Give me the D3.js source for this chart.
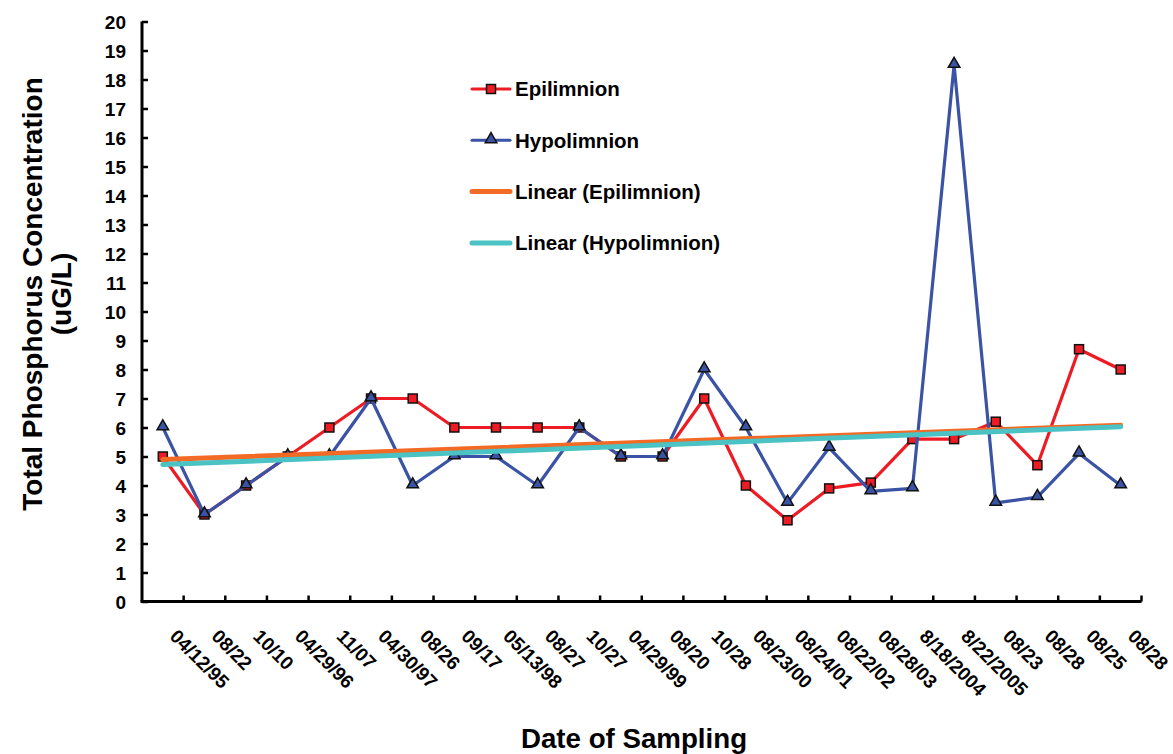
<!DOCTYPE html>
<html>
<head>
<meta charset="utf-8">
<script src="https://cdn.jsdelivr.net/npm/d3@7/dist/d3.min.js"></script>
<style>
  html, body { margin: 0; padding: 0; background: #fff; }
  svg { display: block; }
  text { font-family: "Liberation Sans", Arial, sans-serif; font-weight: bold; fill: #000; }
</style>
</head>
<body>
<svg id="chart" width="1173" height="754"></svg>
<script>
// Sampling dates (category axis)
const dates = ["04/12/95", "08/22", "10/10", "04/29/96", "11/07", "04/30/97", "08/26", "09/17",
  "05/13/98", "08/27", "10/27", "04/29/99", "08/20", "10/28", "08/23/00", "08/24/01",
  "08/22/02", "08/28/03", "8/18/2004", "8/22/2005", "08/23", "08/28", "08/25", "08/28"];

// Total phosphorus, uG/L
const epilimnion = [5, 3, 4, 5, 6, 7, 7, 6, 6, 6, 6, 5, 5, 7, 4, 2.8, 3.9, 4.1, 5.6, 5.6, 6.2, 4.7, 8.7, 8.0];
const hypolimnion = [6, 3, 4, 5, 5, 7, 4, 5, 5, 4, 6, 5, 5, 8, 6, 3.4, 5.3, 3.8, 3.9, 18.5, 3.4, 3.6, 5.1, 4.0];

const yTicks = d3.range(0, 21);

const seriesNames = ["Epilimnion", "Hypolimnion", "Linear (Epilimnion)", "Linear (Hypolimnion)"];
const colors = { epi: "#ED1C24", hypo: "#3A53A4", epiTrend: "#F26A24", hypoTrend: "#4BC3C4" };

const svg = d3.select("#chart");
const plot = { left: 142, right: 1141.5, top: 21.5, bottom: 601.5 };

const keys = dates.map((d, i) => i);
const x = d3.scaleBand().domain(keys).range([plot.left, plot.right]).padding(0);
const cx = i => x(i) + x.bandwidth() / 2;
const y = d3.scaleLinear().domain([0, 20]).range([plot.bottom, plot.top]);

// Least-squares trend on the category index (1..n)
function linearFit(vals) {
  const n = vals.length;
  const xs = vals.map((v, i) => i + 1);
  const mx = d3.mean(xs), my = d3.mean(vals);
  let sxy = 0, sxx = 0;
  xs.forEach((xi, i) => { sxy += (xi - mx) * (vals[i] - my); sxx += (xi - mx) * (xi - mx); });
  const b = sxy / sxx, a = my - b * mx;
  return [0, n - 1].map(i => ({ i, v: a + b * (i + 1) }));
}

// Axes
const yAxis = d3.axisLeft(y).tickValues(yTicks).tickSize(-6).tickPadding(16).tickFormat(d3.format("d"));
const gy = svg.append("g").attr("transform", `translate(${plot.left},0)`).call(yAxis);
gy.select(".domain").attr("d", `M0,${plot.top}V${plot.bottom}`).attr("stroke", "#000").attr("stroke-width", 3);
gy.selectAll(".tick line").attr("stroke", "#000").attr("stroke-width", 2.5);
gy.selectAll(".tick text").style("font-size", "19px").attr("dy", "0.36em");

const bounds = dates.map((d, i) => x(i) + x.bandwidth());
const gx = svg.append("g").attr("transform", `translate(0,${plot.bottom})`);
gx.append("path").attr("d", `M${plot.left - 1.5},0H${plot.right}`).attr("stroke", "#000").attr("stroke-width", 3);
gx.selectAll("line.tick").data(bounds).join("line")
  .attr("x1", d => d).attr("x2", d => d).attr("y1", 0).attr("y2", -6)
  .attr("stroke", "#000").attr("stroke-width", 2.5);
gx.selectAll("text.lab").data(dates).join("text")
  .attr("class", "lab")
  .attr("transform", (d, i) => `translate(${cx(i) + 6},36) rotate(45)`)
  .style("font-size", "19px")
  .text(d => d);

// Axis titles
svg.append("text").attr("x", 634).attr("y", 748).attr("text-anchor", "middle")
  .style("font-size", "27.7px").text("Date of Sampling");
const yt = svg.append("text").attr("transform", "translate(42,294) rotate(-90)")
  .attr("text-anchor", "middle").style("font-size", "28px");
yt.append("tspan").attr("x", 0).attr("y", 0).text("Total Phosphorus Concentration");
yt.append("tspan").attr("x", 0).attr("y", 29).text("(uG/L)");

// Series lines and markers
const line = d3.line().x((d, i) => cx(i)).y(d => y(d));
const triangle = d3.symbol().type(d3.symbolTriangle).size(58);

svg.append("path").datum(epilimnion).attr("d", line)
  .attr("fill", "none").attr("stroke", colors.epi).attr("stroke-width", 3.2).attr("stroke-linejoin", "round");
svg.append("g").selectAll("rect").data(epilimnion).join("rect")
  .attr("x", (d, i) => cx(i) - 4.5).attr("y", d => y(d) - 4.5)
  .attr("width", 9).attr("height", 9)
  .attr("fill", colors.epi).attr("stroke", "#111").attr("stroke-width", 1.5);

svg.append("path").datum(hypolimnion).attr("d", line)
  .attr("fill", "none").attr("stroke", colors.hypo).attr("stroke-width", 3.2).attr("stroke-linejoin", "round");
svg.append("g").selectAll("path").data(hypolimnion).join("path")
  .attr("d", triangle)
  .attr("transform", (d, i) => `translate(${cx(i)},${y(d) - 1})`)
  .attr("fill", colors.hypo).attr("stroke", "#111").attr("stroke-width", 1.5);

// Trend lines
const trendLine = d3.line().x(d => cx(d.i)).y(d => y(d.v));
svg.append("path").datum(linearFit(epilimnion)).attr("d", trendLine)
  .attr("stroke", colors.epiTrend).attr("stroke-width", 5).attr("stroke-linecap", "round");
svg.append("path").datum(linearFit(hypolimnion)).attr("d", trendLine)
  .attr("stroke", colors.hypoTrend).attr("stroke-width", 5).attr("stroke-linecap", "round");

// Legend
const legend = svg.append("g").attr("transform", "translate(472,89)");
const rows = legend.selectAll("g").data(seriesNames).join("g")
  .attr("transform", (d, i) => `translate(0,${i * 51.3})`);
const legendColors = [colors.epi, colors.hypo, colors.epiTrend, colors.hypoTrend];
rows.append("line").attr("x1", 0).attr("x2", 38).attr("y1", 0).attr("y2", 0)
  .attr("stroke", (d, i) => legendColors[i]).attr("stroke-width", (d, i) => i < 2 ? 3 : 5)
  .attr("stroke-linecap", "round");
rows.filter((d, i) => i === 0).append("rect")
  .attr("x", 14.5).attr("y", -4.5).attr("width", 9).attr("height", 9)
  .attr("fill", colors.epi).attr("stroke", "#111").attr("stroke-width", 1.5);
rows.filter((d, i) => i === 1).append("path")
  .attr("d", triangle).attr("transform", "translate(19,-1)")
  .attr("fill", colors.hypo).attr("stroke", "#111").attr("stroke-width", 1.5);
rows.append("text").attr("x", 43).attr("y", 0).attr("dy", "0.36em")
  .style("font-size", "20.5px").text(d => d);
</script>
</body>
</html>
